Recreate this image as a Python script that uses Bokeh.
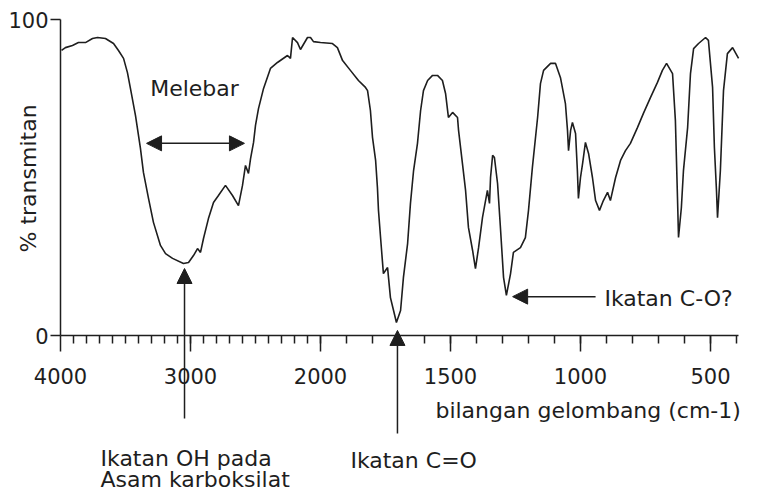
from bokeh.plotting import figure
from bokeh.models import FixedTicker, Label, Arrow, NormalHead, Range1d
from bokeh.embed import file_html
from bokeh.resources import INLINE

# ---- data (wavenumber cm-1, % transmittance) ----
wavenumber = [3992, 3962, 3908, 3862, 3808, 3754, 3715, 3654, 3592, 3554, 3515, 3485, 3462, 3423,
              3385, 3362, 3323, 3285, 3231, 3192, 3138, 3054, 3015, 2977, 2946, 2923, 2900, 2862,
              2823, 2785, 2731, 2677, 2631, 2600, 2577, 2554, 2538, 2515, 2500, 2477, 2438, 2385,
              2331, 2254, 2231, 2215, 2177, 2154, 2100, 2077, 2054, 2000,
              1954, 1935, 1915, 1885, 1854, 1827, 1819, 1808, 1800, 1788, 1781, 1777, 1769, 1762,
              1758, 1742, 1738, 1731, 1719, 1708, 1692, 1681, 1665, 1654, 1642, 1627, 1615, 1604,
              1588, 1569, 1550, 1531, 1519, 1508, 1492, 1473, 1469, 1454, 1442, 1431, 1415, 1404,
              1392, 1377, 1358, 1350, 1346, 1338, 1331, 1319, 1308, 1296, 1285, 1269, 1258, 1231,
              1212, 1200, 1185, 1165, 1154, 1142, 1115, 1096, 1077, 1058, 1050, 1046, 1038, 1031,
              1019, 1012, 1008, 1000, 992, 981, 969, 954, 942, 927, 912, 896, 885, 865, 846, 827,
              808, 781, 758, 731, 704, 685, 669, 646, 635, 627, 623, 612, 604, 588, 577, 565, 546,
              519, 508, 492, 485, 477, 473, 462, 450, 435, 415, 392]
transmittance = [90.2, 91.1, 91.8, 92.7, 92.7, 94.0, 94.3, 94.0, 92.4, 90.2, 87.7, 83.2, 78.2, 69.6,
                 59.2, 51.6, 43.4, 35.8, 28.5, 25.9, 24.4, 22.8, 23.1, 25.3, 27.5, 26.3, 30.7, 37.0,
                 42.1, 44.3, 47.5, 44.3, 41.1, 47.5, 53.8, 51.3, 56.0, 61.1, 66.5, 71.8, 78.2, 84.5,
                 86.4, 88.6, 87.7, 94.3, 92.7, 90.5, 94.3, 94.3, 93.0, 92.7,
                 92.4, 91.1, 87.0, 83.9, 80.7, 78.5, 77.5, 71.2, 62.7, 55.4, 46.8, 39.6, 31.0, 23.7,
                 19.6, 21.5, 18.0, 12.0, 7.9, 4.1, 7.9, 18.4, 29.1, 41.8, 52.2, 60.8, 71.2, 77.5,
                 80.7, 82.3, 82.3, 80.7, 76.6, 69.0, 70.6, 69.0, 64.9, 54.4, 45.9, 34.2, 26.9, 21.2,
                 27.8, 37.3, 45.9, 41.8, 50.0, 57.0, 56.3, 48.1, 34.2, 18.4, 12.7, 19.6, 26.3, 27.8,
                 31.0, 39.6, 53.2, 69.0, 79.7, 83.9, 86.1, 86.1, 81.6, 73.4, 64.9, 58.5, 64.9, 67.4,
                 63.9, 52.2, 43.4, 50.0, 54.4, 61.1, 57.6, 50.0, 42.7, 39.6, 42.7, 45.3, 42.7, 50.0,
                 55.4, 58.5, 60.8, 65.8, 70.3, 75.3, 80.1, 83.9, 86.1, 82.9, 68.0, 43.7, 31.0, 40.5,
                 52.2, 65.8, 82.9, 90.8, 92.4, 94.3, 93.4, 78.5, 59.5, 45.9, 37.3, 52.2, 77.5, 89.2,
                 91.1, 87.7]

x_tick_values = [4000, 3000, 2000, 1500, 1000, 500]
x_minor_values = list(range(3900, 399, -100))
y_tick_values = [0, 100]
wn_end = 392

FONT = "DejaVu Sans"
INK = "#1e1e1e"


def to_u(w):
    """IR chart scale: 4000-2000 compressed, below 2000 doubled."""
    return 4000 - w if w >= 2000 else 2000 + 2 * (2000 - w)


u = [to_u(w) for w in wavenumber]

W, H = 762, 493
# frame fills the canvas; axes sit at fixed data locations so that the
# annotations around them are not clipped
p = figure(width=W, height=H, output_backend="svg", toolbar_location=None,
           x_range=Range1d(-461.5, (W - 60) / 0.13), y_range=Range1d((335 - H) / 3.16, 335 / 3.16),
           min_border_left=0, min_border_right=0, min_border_top=0, min_border_bottom=0)
p.outline_line_color = None
p.xgrid.visible = False
p.ygrid.visible = False
p.background_fill_color = "white"
p.border_fill_color = "white"

p.line(u, transmittance, line_color=INK, line_width=1.6)

# x axis
xa = p.xaxis[0]
xa.fixed_location = 0
xa.bounds = (0, to_u(wn_end))
xa.ticker = FixedTicker(ticks=[to_u(w) for w in x_tick_values],
                        minor_ticks=[to_u(w) for w in x_minor_values])
xa.major_label_overrides = {to_u(w): str(w) for w in x_tick_values}
xa.major_tick_out = 16
xa.major_tick_in = 0
xa.minor_tick_out = 8
xa.minor_tick_in = 0
xa.axis_line_width = 1.5
xa.major_tick_line_width = 1.5
xa.minor_tick_line_width = 1.5
xa.axis_line_color = INK
xa.major_tick_line_color = INK
xa.minor_tick_line_color = INK
xa.major_label_text_font = FONT
xa.major_label_text_font_size = "21px"
xa.major_label_text_color = INK
xa.major_label_standoff = 16

# y axis
ya = p.yaxis[0]
ya.fixed_location = 0
ya.bounds = (0, 100)
ya.ticker = FixedTicker(ticks=y_tick_values)
ya.major_tick_out = 10
ya.major_tick_in = 0
ya.minor_tick_line_color = None
ya.axis_line_width = 1.5
ya.major_tick_line_width = 1.5
ya.axis_line_color = INK
ya.major_tick_line_color = INK
ya.major_label_text_font = FONT
ya.major_label_text_font_size = "21px"
ya.major_label_text_color = INK
ya.major_label_standoff = 2


def label(w, t, text, align="left", angle=0):
    p.add_layout(Label(x=to_u(w), y=t, text=text, text_font=FONT, text_font_size="22px",
                       text_color=INK, text_align=align, text_baseline="middle", angle=angle))


def arrow(w0, t0, w1, t1, both=False):
    head = lambda: NormalHead(size=15, fill_color=INK, line_color=INK, line_width=1)
    p.add_layout(Arrow(x_start=to_u(w0), y_start=t0, x_end=to_u(w1), y_end=t1,
                       line_color=INK, line_width=1.5, end=head(),
                       start=head() if both else None))


label(4246, 49.7, "% transmitan", align="center", angle=1.5708)
label(2969, 78.2, "Melebar", align="center")
arrow(3338, 60.8, 2585, 60.8, both=True)

arrow(3046, -26.3, 3046, 21.2)
label(3692, -38.9, "Ikatan OH pada")
label(3692, -45.6, "Asam karboksilat")

arrow(1704, -31.0, 1704, 1.6)
label(1885, -39.6, "Ikatan C=O")

arrow(942, 12.3, 1261, 12.3)
label(908, 11.7, "Ikatan C-O?")

label(1558, -23.7, "bilangan gelombang (cm-1)")

open("out.html", "w").write(file_html(p, INLINE))
